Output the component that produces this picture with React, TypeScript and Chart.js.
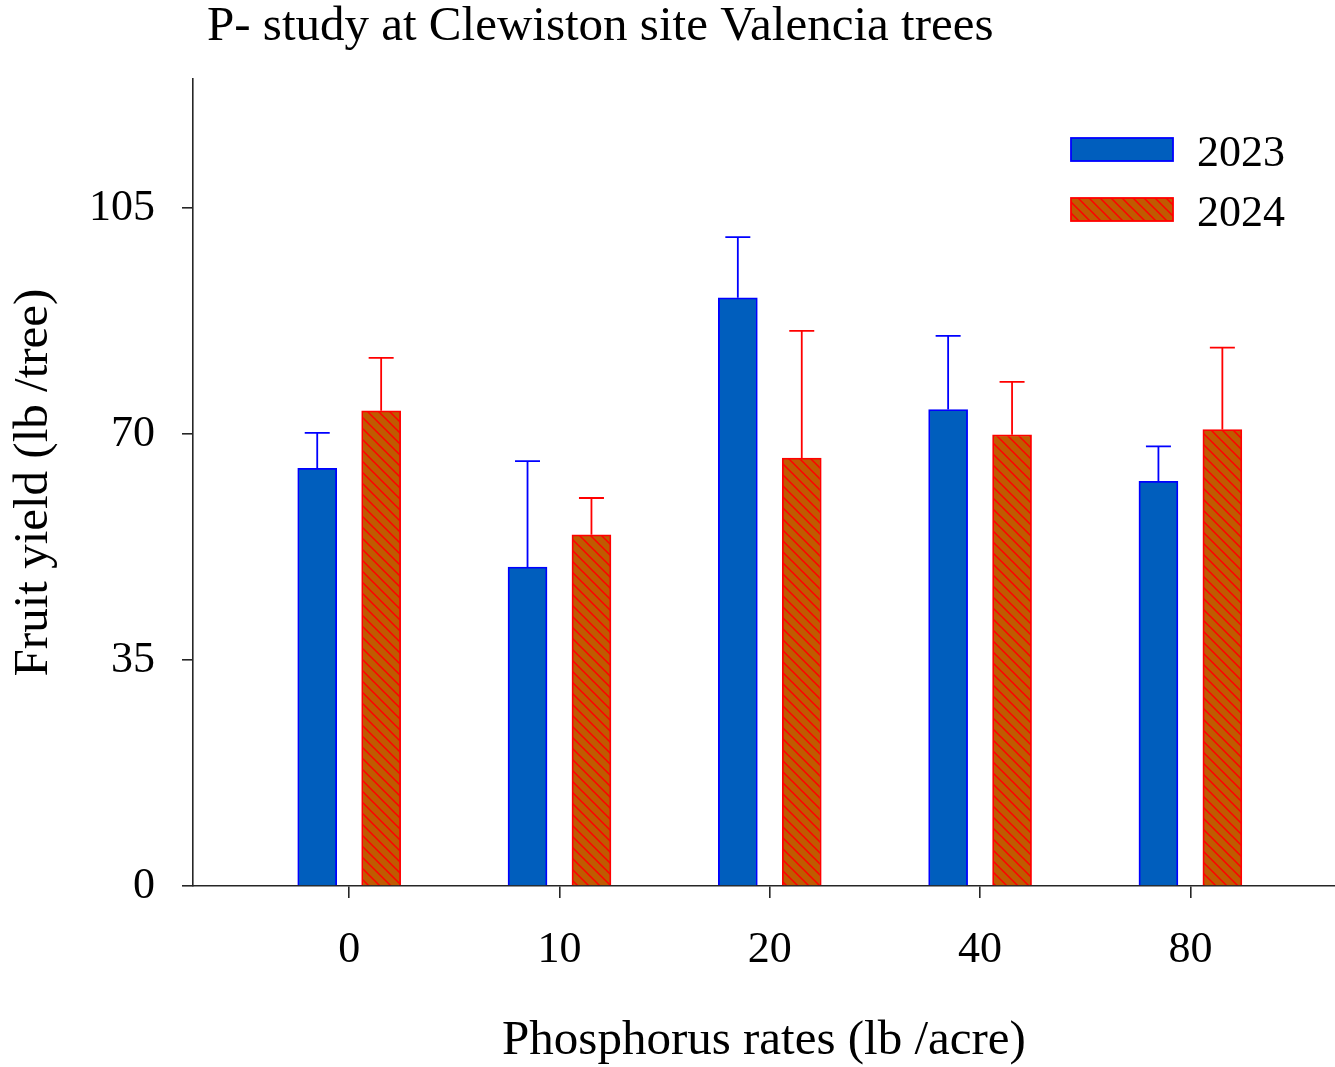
import React, { useEffect, useRef } from 'react';
import { Chart, registerables } from 'chart.js';

Chart.register(...registerables);

// ---- data ----
const chartTitle = 'P- study at Clewiston site Valencia trees';
const xAxisTitle = 'Phosphorus rates (lb /acre)';
const yAxisTitle = 'Fruit yield (lb /tree)';
const categories = ['0', '10', '20', '40', '80'];
const seriesNames = ['2023', '2024'];
const mean2023 = [64.7, 49.4, 91.1, 73.8, 62.7];
const err2023 = [5.5, 16.4, 9.4, 11.4, 5.4];
const mean2024 = [73.6, 54.4, 66.3, 69.9, 70.7];
const err2024 = [8.2, 5.7, 19.7, 8.2, 12.7];
const yTickValues = [0, 35, 70, 105];
const yMin = 0;
const yMax = 125;

// ---- styles ----
const FONT = '"Liberation Serif", "Times New Roman", serif';
const BLUE_FILL = '#005EBD';
const BLUE_EDGE = '#0000FF';
const ORANGE_FILL = '#C05A00';
const RED = '#FF0000';
const AXIS = '#262626';
const GROUP_OFFSET = 0.152;

function makeHatch(): CanvasPattern | string {
  const s = 11;
  const c = document.createElement('canvas');
  c.width = s;
  c.height = s;
  const g = c.getContext('2d');
  if (!g) return ORANGE_FILL;
  g.fillStyle = ORANGE_FILL;
  g.fillRect(0, 0, s, s);
  g.strokeStyle = RED;
  g.lineWidth = 1.5;
  g.beginPath();
  g.moveTo(0, 0); g.lineTo(s, s);
  g.moveTo(-s, 0); g.lineTo(s, 2 * s);
  g.moveTo(0, -s); g.lineTo(2 * s, s);
  g.stroke();
  const p = g.createPattern(c, 'repeat');
  return p || ORANGE_FILL;
}

const errorBarPlugin = {
  id: 'errorBars',
  afterDatasetsDraw(chart: any) {
    const ctx = chart.ctx;
    const yScale = chart.scales.y;
    chart.data.datasets.forEach((ds: any, di: number) => {
      const meta = chart.getDatasetMeta(di);
      ctx.save();
      ctx.strokeStyle = ds.errColor;
      ctx.lineWidth = 1.8;
      meta.data.forEach((el: any, i: number) => {
        const v = ds.means[i];
        const e = ds.errors[i];
        const yTop = yScale.getPixelForValue(v + e);
        const yBar = yScale.getPixelForValue(v);
        const x = el.x;
        ctx.beginPath();
        ctx.moveTo(x, yBar);
        ctx.lineTo(x, yTop);
        ctx.moveTo(x - 12.5, yTop);
        ctx.lineTo(x + 12.5, yTop);
        ctx.stroke();
      });
      ctx.restore();
    });
  },
};

const textPlugin = {
  id: 'customText',
  afterDraw(chart: any) {
    const ctx = chart.ctx;
    ctx.save();
    // title
    ctx.fillStyle = '#000';
    ctx.font = `49px ${FONT}`;
    ctx.textAlign = 'left';
    ctx.textBaseline = 'alphabetic';
    ctx.fillText(chartTitle, 207, 40);
    // legend
    const rows = [138, 198];
    chart.data.datasets.forEach((ds: any, di: number) => {
      const y = rows[di];
      ctx.fillStyle = ds.backgroundColor;
      ctx.fillRect(1071, y, 102, 23);
      ctx.strokeStyle = ds.borderColor;
      ctx.lineWidth = 1.8;
      ctx.strokeRect(1071, y, 102, 23);
      ctx.fillStyle = '#000';
      ctx.font = `44px ${FONT}`;
      ctx.textBaseline = 'alphabetic';
      ctx.fillText(seriesNames[di], 1197, y + 28);
    });
    ctx.restore();
  },
};

export default function App() {
  const ref = useRef<HTMLCanvasElement | null>(null);

  useEffect(() => {
    if (!ref.current) return;
    const hatch = makeHatch();
    const chart = new Chart(ref.current, {
      type: 'bar',
      data: {
        datasets: [
          {
            label: seriesNames[0],
            data: mean2023.map((v, i) => ({ x: i - GROUP_OFFSET, y: v })),
            backgroundColor: BLUE_FILL,
            borderColor: BLUE_EDGE,
            borderWidth: 1.8,
            barThickness: 39,
            grouped: false,
            means: mean2023,
            errors: err2023,
            errColor: BLUE_EDGE,
          } as any,
          {
            label: seriesNames[1],
            data: mean2024.map((v, i) => ({ x: i + GROUP_OFFSET, y: v })),
            backgroundColor: hatch,
            borderColor: RED,
            borderWidth: 1.8,
            barThickness: 39,
            grouped: false,
            means: mean2024,
            errors: err2024,
            errColor: RED,
          } as any,
        ],
      },
      options: {
        responsive: false,
        animation: false,
        devicePixelRatio: 1,
        layout: { padding: { top: 79, left: 0, right: 0, bottom: 0 } },
        plugins: {
          legend: { display: false },
          title: { display: false },
          tooltip: { enabled: false },
        },
        scales: {
          x: {
            type: 'linear',
            offset: false,
            min: -0.7427,
            max: 4.6876,
            afterBuildTicks: (s: any) => {
              s.ticks = categories.map((_, i) => ({ value: i }));
            },
            afterFit: (s: any) => {
              s.height = 181;
            },
            ticks: {
              callback: (v: any) => categories[v] ?? '',
              font: { family: FONT, size: 44 },
              color: '#000',
              padding: 26,
              maxRotation: 0,
              autoSkip: false,
            },
            grid: {
              display: true,
              offset: false,
              drawOnChartArea: false,
              drawTicks: true,
              tickLength: 12,
              color: AXIS,
              lineWidth: 1.6,
            },
            border: { display: true, color: AXIS, width: 1.6 },
            title: {
              display: true,
              text: xAxisTitle,
              color: '#000',
              font: { family: FONT, size: 49, lineHeight: 1 },
              padding: { top: 0, bottom: 1 },
            },
          },
          y: {
            type: 'linear',
            min: yMin,
            max: yMax,
            afterBuildTicks: (s: any) => {
              s.ticks = yTickValues.map((v) => ({ value: v }));
            },
            afterFit: (s: any) => {
              s.width = 193;
            },
            ticks: {
              font: { family: FONT, size: 44 },
              color: '#000',
              padding: 27,
            },
            grid: {
              display: true,
              drawOnChartArea: false,
              drawTicks: true,
              tickLength: 11,
              color: AXIS,
              lineWidth: 1.6,
            },
            border: { display: true, color: AXIS, width: 1.6 },
            title: {
              display: true,
              text: yAxisTitle,
              color: '#000',
              font: { family: FONT, size: 49, lineHeight: 1 },
              padding: { top: 10, bottom: 0 },
            },
          },
        },
      } as any,
      plugins: [errorBarPlugin, textPlugin],
    });
    return () => chart.destroy();
  }, []);

  return (
    <div style={{ position: 'fixed', left: 0, top: 0, width: 1335, height: 1067, background: '#fff' }}>
      <canvas ref={ref} width={1335} height={1067} style={{ width: 1335, height: 1067, display: 'block' }} />
    </div>
  );
}
